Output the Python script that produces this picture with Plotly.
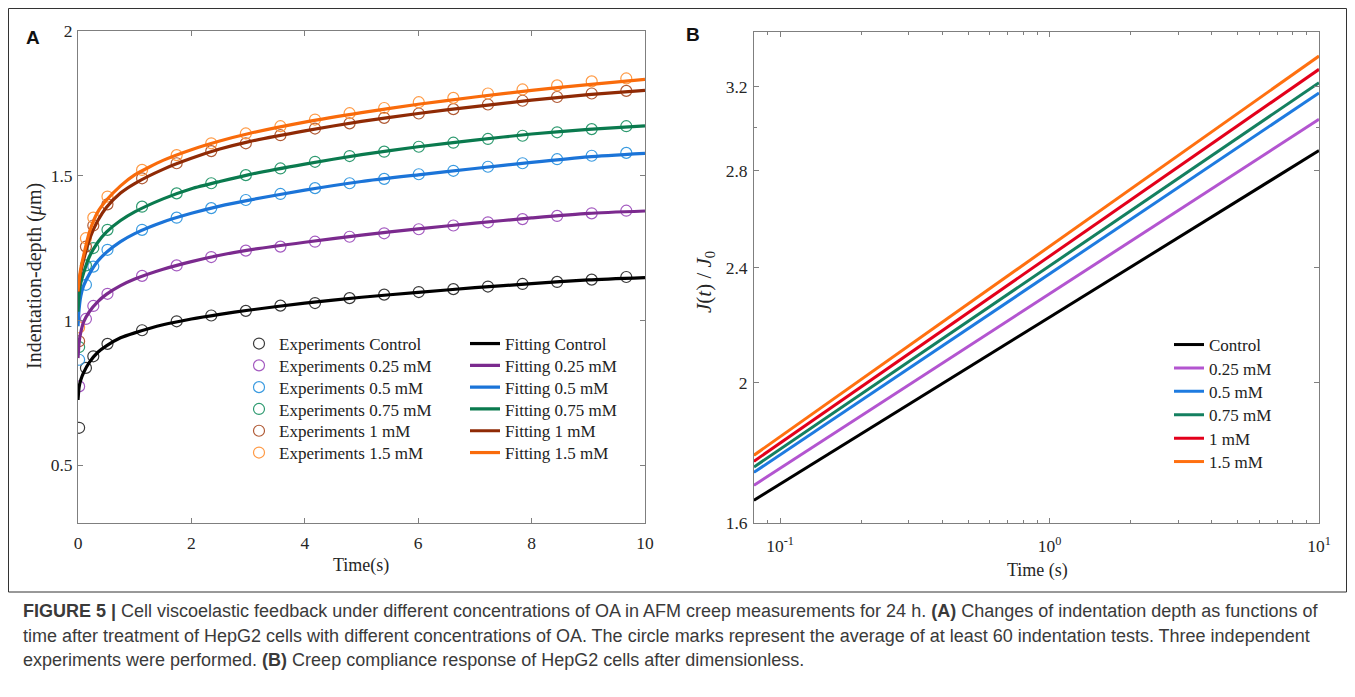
import math
import plotly.graph_objects as go

# page has an 8px body margin: figure spans reference pixels 8..1347 x 8..689
OFF = 8
W, H = 1339, 681

# ---------------- Panel A data ----------------
t_exp = [0.02, 0.14, 0.27, 0.52, 1.13, 1.74, 2.35, 2.96, 3.57, 4.18, 4.79,
         5.40, 6.01, 6.62, 7.23, 7.84, 8.45, 9.06, 9.67]
exp_control = [0.629, 0.836, 0.876, 0.919, 0.966, 0.997, 1.017, 1.033, 1.051, 1.060, 1.077,
               1.089, 1.098, 1.108, 1.117, 1.126, 1.133, 1.141, 1.150]
exp_025 = [0.772, 1.005, 1.050, 1.092, 1.154, 1.190, 1.219, 1.241, 1.255, 1.272, 1.289,
           1.301, 1.315, 1.328, 1.339, 1.350, 1.361, 1.370, 1.379]
exp_05 = [0.864, 1.123, 1.186, 1.244, 1.313, 1.355, 1.388, 1.416, 1.437, 1.457, 1.474,
          1.489, 1.505, 1.517, 1.531, 1.543, 1.557, 1.569, 1.579]
exp_075 = [0.908, 1.190, 1.250, 1.313, 1.393, 1.439, 1.474, 1.502, 1.525, 1.548, 1.568,
           1.583, 1.600, 1.614, 1.627, 1.638, 1.650, 1.661, 1.671]
exp_1 = [0.928, 1.255, 1.328, 1.401, 1.491, 1.543, 1.585, 1.612, 1.640, 1.663, 1.681,
         1.700, 1.715, 1.730, 1.746, 1.759, 1.772, 1.784, 1.793]
exp_15 = [0.976, 1.284, 1.355, 1.428, 1.520, 1.571, 1.612, 1.646, 1.671, 1.694, 1.716,
          1.734, 1.754, 1.769, 1.784, 1.798, 1.812, 1.826, 1.836]

t_fit = [0, 0.02, 0.05, 0.1, 0.2, 0.35, 0.5, 0.75, 1, 1.5, 2, 2.5, 3, 4, 5, 6, 7, 8, 9, 10]
fit_control = [0.725, 0.77, 0.795, 0.82, 0.855, 0.89, 0.912, 0.94, 0.957, 0.985, 1.005,
               1.021, 1.035, 1.06, 1.08, 1.097, 1.113, 1.127, 1.14, 1.148]
fit_025 = [0.87, 0.925, 0.96, 0.995, 1.03, 1.065, 1.09, 1.12, 1.143, 1.177, 1.203,
           1.225, 1.243, 1.27, 1.295, 1.316, 1.336, 1.354, 1.37, 1.378]
fit_05 = [0.98, 1.04, 1.085, 1.12, 1.16, 1.205, 1.235, 1.272, 1.30, 1.34, 1.37,
          1.395, 1.415, 1.45, 1.48, 1.503, 1.525, 1.546, 1.565, 1.577]
fit_075 = [1.03, 1.09, 1.13, 1.165, 1.22, 1.27, 1.305, 1.345, 1.375, 1.42, 1.455,
           1.48, 1.503, 1.54, 1.573, 1.60, 1.623, 1.644, 1.66, 1.672]
fit_1 = [1.10, 1.13, 1.17, 1.21, 1.28, 1.345, 1.39, 1.44, 1.473, 1.522, 1.56,
         1.592, 1.617, 1.655, 1.688, 1.715, 1.739, 1.761, 1.78, 1.795]
fit_15 = [1.10, 1.14, 1.18, 1.225, 1.305, 1.375, 1.415, 1.465, 1.503, 1.553, 1.59,
          1.62, 1.645, 1.685, 1.718, 1.747, 1.772, 1.795, 1.815, 1.833]

labels_a = ["Control", "0.25 mM", "0.5 mM", "0.75 mM", "1 mM", "1.5 mM"]
exp_colors = ["#3a3a3a", "#a45bc0", "#3b9be0", "#2e9a70", "#b05a35", "#ff9a45"]
fit_colors = ["#000000", "#7b2a8e", "#1b74d8", "#0a7a4e", "#8f2a05", "#f96b0b"]

# ---------------- Panel B data ----------------
t_b = [0.08, 10]
J_control = [1.659, 2.891]
J_025 = [1.699, 3.038]
J_05 = [1.734, 3.168]
J_075 = [1.749, 3.220]
J_1 = [1.765, 3.289]
J_15 = [1.782, 3.359]
labels_b = ["Control", "0.25 mM", "0.5 mM", "0.75 mM", "1 mM", "1.5 mM"]
colors_b = ["#000000", "#b355d0", "#1e7be0", "#148060", "#e3001b", "#ff7010"]

yticks_b = [1.6, 2, 2.4, 2.8, 3.2]
yticktext_b = ["1.6", "2", "2.4", "2.8", "3.2"]
xticks_b = [0.1, 1, 10]
xticktext_b = ["10<sup>-1</sup>", "10<sup>0</sup>", "10<sup>1</sup>"]


def px(x):
    return (x - OFF) / W


def py(y):
    return 1 - (y - OFF) / H


SERIF = "Liberation Serif, Times New Roman, serif"
SANS = "Liberation Sans, Arial, sans-serif"

fig = go.Figure()
legends = {}
legend_font = dict(family=SERIF, size=17, color="#222222")


def new_legend(x, y):
    name = "legend" if not legends else "legend%d" % (len(legends) + 1)
    legends[name] = dict(x=px(x), y=py(y), xanchor="left", yanchor="middle",
                         bgcolor="rgba(0,0,0,0)", borderwidth=0, tracegroupgap=0,
                         font=legend_font)
    return name


exps = [exp_control, exp_025, exp_05, exp_075, exp_1, exp_15]
fits = [fit_control, fit_025, fit_05, fit_075, fit_1, fit_15]

for i, (lab, ys, c) in enumerate(zip(labels_a, exps, exp_colors)):
    lg = new_legend(239, 344 + 21.8 * i)
    fig.add_trace(go.Scatter(
        x=t_exp, y=ys, mode="markers", name="Experiments " + lab,
        marker=dict(symbol="circle-open", size=11, color=c, line=dict(width=1.2, color=c)),
        xaxis="x", yaxis="y", legend=lg))

for i, (lab, ys, c) in enumerate(zip(labels_a, fits, fit_colors)):
    lg = new_legend(465, 344 + 21.8 * i)
    fig.add_trace(go.Scatter(
        x=t_fit, y=ys, mode="lines", name="Fitting " + lab,
        line=dict(color=c, width=3.2, shape="spline", smoothing=0.6),
        xaxis="x", yaxis="y", legend=lg))

Js = [J_control, J_025, J_05, J_075, J_1, J_15]
for i, (lab, ys, c) in enumerate(zip(labels_b, Js, colors_b)):
    lg = new_legend(1169, 345 + 23.4 * i)
    fig.add_trace(go.Scatter(
        x=t_b, y=ys, mode="lines", name=lab,
        line=dict(color=c, width=3),
        xaxis="x2", yaxis="y2", legend=lg))

axis_common = dict(
    showline=True, linecolor="#7f7f7f", linewidth=1, mirror="ticks",
    ticks="inside", ticklen=5, tickcolor="#7f7f7f", tickwidth=1,
    showgrid=False, zeroline=False,
    tickfont=dict(family=SERIF, size=17.5, color="#262626"),
)

fig.update_layout(
    width=W, height=H,
    margin=dict(l=0, r=0, t=0, b=0, autoexpand=False),
    paper_bgcolor="white", plot_bgcolor="white",
    showlegend=True,
    xaxis=dict(domain=[px(78), px(645)], range=[0, 10], tickvals=[0, 2, 4, 6, 8, 10],
               anchor="y", ticklabelstandoff=4, **axis_common),
    yaxis=dict(domain=[py(523), py(31)], range=[0.3, 2], tickvals=[0.5, 1, 1.5, 2],
               ticktext=["0.5", "1", "1.5", "2"], anchor="x", ticklabelstandoff=1,
               **axis_common),
    xaxis2=dict(domain=[px(754), px(1319)], type="log",
                range=[math.log10(0.08), 1], tickvals=xticks_b, ticktext=xticktext_b,
                minor=dict(tickvals=[0.09, 0.2, 0.3, 0.4, 0.5, 0.6, 0.7, 0.8, 0.9,
                                     2, 3, 4, 5, 6, 7, 8, 9],
                           ticks="inside", ticklen=3, tickcolor="#7f7f7f"),
                anchor="y2", ticklabelstandoff=7, **axis_common),
    yaxis2=dict(domain=[py(523), py(32)], type="log",
                range=[math.log10(1.6), math.log10(3.49)], tickvals=yticks_b,
                ticktext=yticktext_b,
                minor=dict(tickvals=[3], ticks="inside", ticklen=3, tickcolor="#7f7f7f"),
                anchor="x2", ticklabelstandoff=2, **axis_common),
    **legends,
)


def ann(x, y, text, size, family, color="#262626", angle=0, xanchor="center"):
    return dict(xref="paper", yref="paper", x=px(x), y=py(y), text=text,
                textangle=angle, showarrow=False, xanchor=xanchor, yanchor="middle",
                align="left", font=dict(family=family, size=size, color=color))


CAP = dict(size=18, family=SANS, color="#3a3a3a", xanchor="left")
annotations = [
    ann(35, 276, "Indentation-depth (<i>\u03bc</i>m)", 20, SERIF, angle=-90),
    ann(361, 565, "Time(s)", 18, SERIF),
    ann(705, 282, "<i>J</i>(<i>t</i>) / <i>J</i><sub>0</sub>", 21, SERIF, angle=-90),
    ann(1037, 570, "Time (s)", 18, SERIF),
    ann(33, 37, "<b>A</b>", 19, SANS, color="#111111"),
    ann(693, 35, "<b>B</b>", 19, SANS, color="#111111"),
    ann(21, 611, "<b>FIGURE 5 |</b> Cell viscoelastic feedback under different concentrations of OA in AFM creep measurements for 24 h. <b>(A)</b> Changes of indentation depth as functions of", **CAP),
    ann(21, 636, "time after treatment of HepG2 cells with different concentrations of OA. The circle marks represent the average of at least 60 indentation tests. Three independent", **CAP),
    ann(21, 660, "experiments were performed. <b>(B)</b> Creep compliance response of HepG2 cells after dimensionless.", **CAP),
]
fig.update_layout(annotations=annotations)

fig.add_shape(type="rect", xref="paper", yref="paper",
              x0=px(8.5), x1=px(1346.5), y0=py(592), y1=py(8.5),
              line=dict(color="#333333", width=1), fillcolor="rgba(0,0,0,0)")

fig.write_html("out.html")
